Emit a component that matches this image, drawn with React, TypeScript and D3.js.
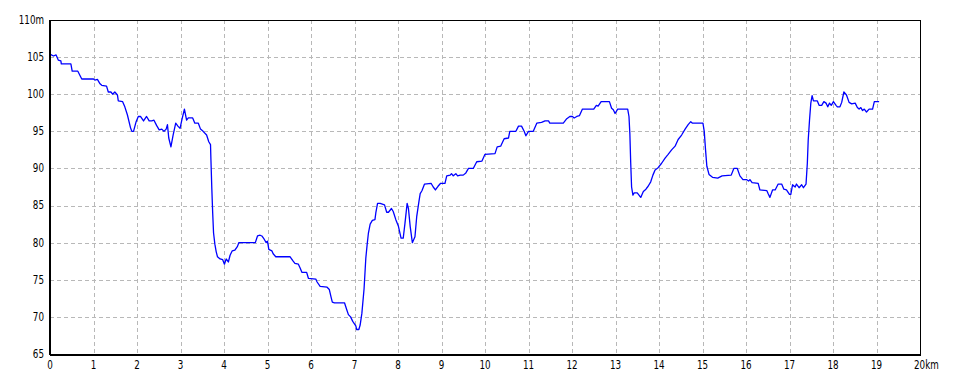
import React from "react";
import * as d3 from "d3";

const distKm: number[] = [
  0.0, 0.08, 0.14, 0.19, 0.25, 0.26, 0.48, 0.51, 0.64, 0.73, 1.0, 1.03, 1.09, 1.15, 1.19, 1.3, 1.34, 1.4, 1.44, 1.49,
  1.55, 1.57, 1.67, 1.72, 1.78, 1.85, 1.88, 1.92, 1.98, 2.03, 2.08, 2.15, 2.22, 2.28, 2.34, 2.39, 2.45, 2.51, 2.57, 2.62,
  2.67, 2.7, 2.73, 2.78, 2.83, 2.89, 2.94, 2.99, 3.03, 3.09, 3.14, 3.18, 3.28, 3.33, 3.41, 3.46, 3.52, 3.6, 3.65, 3.69,
  3.7, 3.72, 3.74, 3.76, 3.79, 3.82, 3.85, 3.91, 3.97, 4.01, 4.05, 4.1, 4.14, 4.19, 4.25, 4.31, 4.34, 4.72, 4.77, 4.83,
  4.87, 4.92, 4.97, 5.0, 5.03, 5.1, 5.13, 5.19, 5.52, 5.59, 5.63, 5.71, 5.75, 5.79, 5.9, 5.94, 6.11, 6.14, 6.21, 6.37,
  6.42, 6.46, 6.49, 6.54, 6.77, 6.82, 6.86, 6.91, 6.96, 7.03, 7.05, 7.1, 7.13, 7.17, 7.22, 7.26, 7.29, 7.32, 7.36, 7.41,
  7.47, 7.49, 7.53, 7.59, 7.69, 7.74, 7.78, 7.85, 7.89, 7.95, 8.01, 8.07, 8.12, 8.16, 8.21, 8.24, 8.28, 8.33, 8.39, 8.43,
  8.48, 8.51, 8.55, 8.61, 8.76, 8.81, 8.86, 8.92, 8.98, 9.08, 9.12, 9.2, 9.23, 9.27, 9.33, 9.37, 9.43, 9.5, 9.56, 9.62,
  9.73, 9.81, 9.93, 10.0, 10.23, 10.28, 10.36, 10.44, 10.54, 10.57, 10.71, 10.77, 10.84, 10.9, 10.94, 11.0, 11.11, 11.19, 11.3, 11.38,
  11.46, 11.49, 11.8, 11.88, 11.95, 12.01, 12.05, 12.11, 12.17, 12.24, 12.5, 12.56, 12.6, 12.67, 12.86, 12.91, 12.95, 12.99, 13.05, 13.28,
  13.31, 13.33, 13.35, 13.37, 13.4, 13.43, 13.5, 13.58, 13.64, 13.7, 13.75, 13.81, 13.86, 13.91, 13.98, 14.06, 14.14, 14.21, 14.29, 14.37,
  14.44, 14.52, 14.6, 14.67, 14.73, 14.77, 15.01, 15.04, 15.07, 15.1, 15.15, 15.23, 15.35, 15.45, 15.66, 15.72, 15.8, 15.86, 15.93, 16.01,
  16.06, 16.09, 16.14, 16.28, 16.32, 16.48, 16.51, 16.55, 16.61, 16.67, 16.74, 16.82, 16.87, 16.93, 17.0, 17.03, 17.07, 17.13, 17.16, 17.22,
  17.28, 17.32, 17.38, 17.41, 17.43, 17.46, 17.49, 17.52, 17.55, 17.64, 17.68, 17.74, 17.79, 17.84, 17.88, 17.92, 17.96, 18.01, 18.07, 18.1,
  18.16, 18.2, 18.25, 18.31, 18.37, 18.43, 18.51, 18.56, 18.6, 18.64, 18.68, 18.72, 18.77, 18.83, 18.91, 18.95, 19.06,
];

const elevationM: number[] = [
  105.4, 105.15, 105.3, 104.6, 104.5, 104.1, 104.1, 103.1, 103.1, 102.05, 102.05, 101.9, 102.0, 101.4, 101.2, 101.1, 100.3, 100.3, 100.0, 100.3,
  99.9, 99.1, 99.0, 98.3, 97.2, 95.5, 95.0, 95.0, 96.3, 97.0, 97.0, 96.4, 97.0, 96.4, 96.4, 96.5, 95.8, 95.2, 95.3, 95.0,
  95.3, 95.9, 94.1, 92.9, 94.5, 96.1, 95.7, 95.4, 96.5, 98.0, 96.5, 96.8, 96.8, 96.1, 96.1, 95.3, 95.0, 94.5, 93.6, 93.2,
  91.1, 87.3, 84.0, 81.3, 79.8, 78.8, 78.1, 77.8, 77.7, 77.1, 77.8, 77.4, 78.3, 78.9, 79.0, 79.5, 80.0, 80.0, 80.9, 81.0,
  80.9, 80.5, 80.0, 80.2, 79.1, 78.9, 78.5, 78.1, 78.1, 77.5, 77.2, 77.1, 76.6, 76.0, 76.0, 75.2, 75.1, 74.7, 74.1, 74.0,
  73.7, 72.7, 72.0, 71.9, 71.9, 71.0, 70.3, 70.0, 69.4, 68.8, 68.3, 68.3, 68.9, 70.5, 73.8, 77.9, 79.7, 81.3, 82.5, 83.0,
  83.1, 84.0, 85.3, 85.3, 85.1, 84.1, 84.1, 84.6, 84.2, 83.1, 82.2, 80.6, 80.6, 82.6, 85.3, 84.6, 82.2, 80.0, 80.8, 83.5,
  85.5, 86.6, 87.0, 87.9, 88.0, 87.5, 87.1, 87.6, 88.0, 88.0, 89.0, 89.1, 89.3, 89.0, 89.3, 89.0, 89.1, 89.1, 89.4, 90.0,
  90.0, 90.9, 91.0, 91.9, 92.0, 92.9, 93.0, 94.0, 94.1, 95.0, 95.0, 95.7, 95.7, 95.0, 94.4, 95.0, 95.0, 96.1, 96.2, 96.4,
  96.4, 96.1, 96.1, 96.7, 97.0, 97.0, 96.8, 97.0, 97.1, 98.0, 98.0, 98.5, 98.4, 99.0, 99.0, 98.1, 97.9, 97.4, 98.0, 98.0,
  97.0, 94.7, 90.7, 87.5, 86.4, 86.7, 86.7, 86.1, 86.9, 87.2, 87.6, 88.2, 89.1, 89.8, 90.1, 90.7, 91.4, 91.9, 92.5, 93.0,
  93.9, 94.5, 95.3, 95.9, 96.3, 96.1, 96.1, 95.0, 92.5, 90.3, 89.2, 88.8, 88.7, 89.0, 89.1, 90.0, 90.0, 89.0, 88.5, 88.5,
  88.3, 88.5, 88.1, 88.0, 87.1, 87.0, 86.6, 86.1, 87.1, 87.1, 87.9, 87.9, 87.2, 87.1, 86.5, 86.5, 87.8, 87.5, 87.9, 87.4,
  87.8, 87.4, 87.9, 90.7, 93.8, 96.5, 98.8, 99.8, 99.1, 99.1, 98.5, 98.5, 99.0, 98.8, 98.3, 98.8, 98.5, 99.0, 98.5, 98.3,
  98.3, 98.9, 100.3, 99.9, 98.9, 98.7, 98.8, 98.2, 98.0, 98.2, 97.8, 98.0, 97.6, 98.0, 98.0, 99.0, 99.0,
];

const xTicks: number[] = d3.range(0, 21, 1);
const xTickLabels: string[] = xTicks.map((t) => (t === 20 ? "20km" : String(t)));
const yTicks: number[] = [65, 70, 75, 80, 85, 90, 95, 100, 105, 110];
const yTickLabels: string[] = yTicks.map((t) => (t === 110 ? "110m" : String(t)));

const W = 960;
const H = 384;
const left = 50;
const right = 920;
const top = 20;
const bottom = 354;
const FONT = "'DejaVu Sans Condensed', 'Liberation Sans', sans-serif";
const SX = 0.78;

export default function App() {
  const x = d3.scaleLinear().domain([0, 20]).range([left, right]);
  const y = d3.scaleLinear().domain([65, 110]).range([bottom, top]);
  const pts: [number, number][] = distKm.map((d, i) => [d, elevationM[i]]);
  const line = d3
    .line<[number, number]>()
    .x((d) => x(d[0]))
    .y((d) => y(d[1]));

  return (
    <svg
      width={W}
      height={H}
      style={{ position: "fixed", left: 0, top: 0, background: "#fff" }}
      xmlns="http://www.w3.org/2000/svg"
    >
      <rect x={0} y={0} width={W} height={H} fill="#fff" />
      {xTicks
        .filter((t) => t > 0 && t < 20)
        .map((t) => (
          <line
            key={"gx" + t}
            x1={Math.round(x(t)) + 0.5}
            x2={Math.round(x(t)) + 0.5}
            y1={top}
            y2={bottom}
            stroke="#b8b8b8"
            strokeDasharray="4 3"
            shapeRendering="crispEdges"
          />
        ))}
      {yTicks
        .filter((t) => t > 65 && t < 110)
        .map((t) => (
          <line
            key={"gy" + t}
            x1={left}
            x2={right}
            y1={Math.round(y(t)) + 0.5}
            y2={Math.round(y(t)) + 0.5}
            stroke="#b8b8b8"
            strokeDasharray="4 3"
            shapeRendering="crispEdges"
          />
        ))}
      <path d={line(pts) || ""} fill="none" stroke="#0000ff" strokeWidth={1.3} strokeLinejoin="round" />
      <rect
        x={left + 0.5}
        y={top + 0.5}
        width={right - left}
        height={bottom - top}
        fill="none"
        stroke="#000"
        strokeWidth={1}
        shapeRendering="crispEdges"
      />
      <line x1={left - 0.5} x2={left - 0.5} y1={top} y2={bottom + 1} stroke="#000" shapeRendering="crispEdges" />
      <line x1={left} x2={right + 1} y1={bottom + 1.5} y2={bottom + 1.5} stroke="#000" shapeRendering="crispEdges" />
      {yTicks.map((t, i) => (
        <text
          key={"ly" + t}
          transform={`translate(44,${y(t)}) scale(${SX},1)`}
          textAnchor="end"
          dominantBaseline="central"
          fontFamily={FONT}
          fontSize={12.5}
          fill="#000"
        >
          {yTickLabels[i]}
        </text>
      ))}
      {xTicks.map((t, i) => (
        <text
          key={"lx" + t}
          transform={`translate(${t === 20 ? x(t) - 6 : x(t)},365) scale(${SX},1)`}
          textAnchor={t === 20 ? "start" : "middle"}
          dominantBaseline="central"
          fontFamily={FONT}
          fontSize={12.5}
          fill="#000"
        >
          {xTickLabels[i]}
        </text>
      ))}
    </svg>
  );
}
